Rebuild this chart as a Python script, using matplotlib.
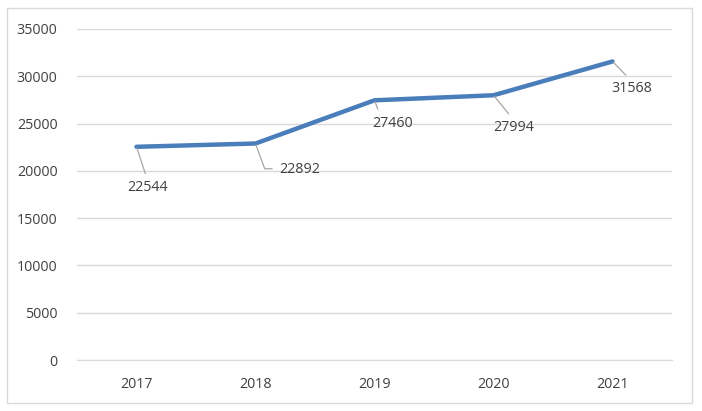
"""Line chart of yearly totals 2017-2021 with Excel-style data labels."""
import matplotlib.pyplot as plt
from matplotlib.patches import Rectangle

years = ["2017", "2018", "2019", "2020", "2021"]
values = [22544, 22892, 27460, 27994, 31568]
y_ticks = [0, 5000, 10000, 15000, 20000, 25000, 30000, 35000]

# label offsets (pixels) and where the leader attaches on the text box
label_offsets = [(11, -41), (44, -26), (18, -23), (20, -32), (19, -27)]
label_relpos = [(0.5, 1.0), (0.0, 0.55), (0.2, 1.0), (0.5, 1.0), (0.5, 1.0)]

plt.rcParams["font.family"] = ["Open Sans", "DejaVu Sans"]
text_color = "#404040"
grid_color = "#d9d9d9"

fig = plt.figure(figsize=(7.02, 4.11), dpi=100)
ax = fig.add_axes([77 / 702, 1 - 360 / 411, 595 / 702, 331 / 411])

# outer chart border
fig.patches.append(Rectangle((7 / 702, 1 - 403 / 411), 685 / 702, 395 / 411,
                             transform=fig.transFigure, fill=False,
                             edgecolor=grid_color, linewidth=1))

x = list(range(len(years)))
ax.plot(x, values, color="#4a7ebb", linewidth=3.2, solid_capstyle="round", zorder=3)

for i, v in enumerate(values):
    dx, dy = label_offsets[i]
    if i == 1:
        conn = "angle,angleA=0,angleB=-70,rad=0"
    else:
        conn = "arc3"
    ax.annotate(f"{v}", xy=(i, v), xytext=(dx, dy), textcoords="offset pixels",
                ha="center", va="center", fontsize=10.3, color=text_color,
                arrowprops=dict(arrowstyle="-", color="#a6a6a6", lw=0.9,
                                shrinkA=3, shrinkB=1, relpos=label_relpos[i],
                                connectionstyle=conn))

ax.set_xlim(-0.5, len(years) - 0.5)
ax.set_ylim(0, 35000)
ax.set_xticks(x)
ax.set_xticklabels(years)
ax.set_yticks(y_ticks)
ax.set_yticklabels([str(t) for t in y_ticks])
ax.tick_params(axis="both", length=0, labelsize=10.3, labelcolor=text_color)
ax.tick_params(axis="y", pad=14)
ax.tick_params(axis="x", pad=12)

ax.grid(axis="y", color=grid_color, linewidth=1)
ax.set_axisbelow(True)
for side in ["top", "right", "left"]:
    ax.spines[side].set_visible(False)
ax.spines["bottom"].set_color(grid_color)

fig.savefig("out.png", dpi=100)
